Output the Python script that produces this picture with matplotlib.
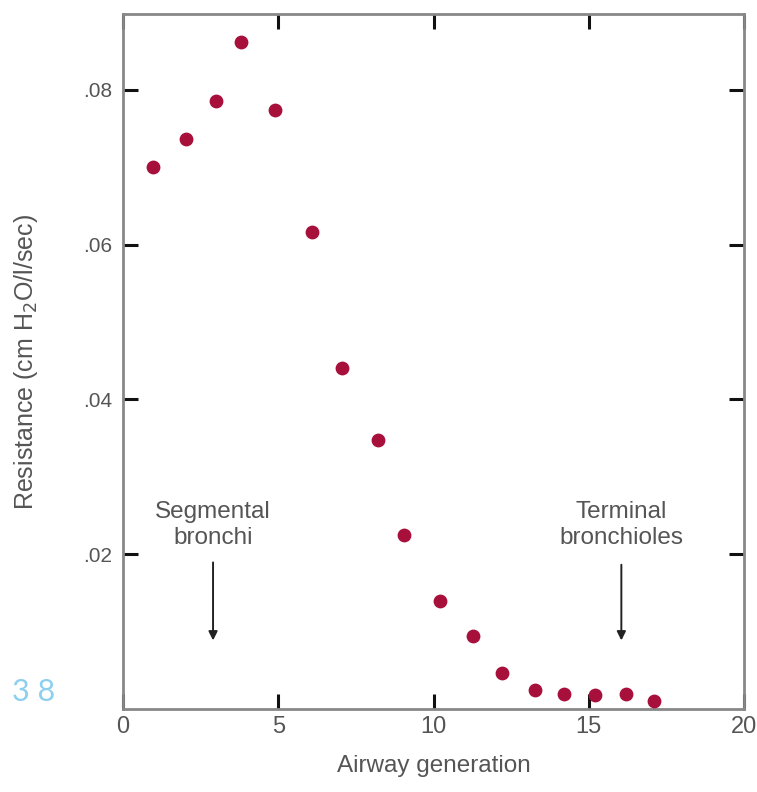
import matplotlib.pyplot as plt

plt.rcParams['font.family'] = ['Liberation Sans', 'DejaVu Sans']

generation = [0.97, 2.04, 3.0, 3.8, 4.9, 6.1, 7.05, 8.2, 9.06, 10.2, 11.26,
              12.2, 13.27, 14.2, 15.2, 16.2, 17.1]
resistance = [0.0700, 0.0736, 0.0785, 0.0862, 0.0774, 0.0616, 0.0441, 0.0347,
              0.0225, 0.0140, 0.0094, 0.0046, 0.0024, 0.0019, 0.0018, 0.0019,
              0.0010]
x_ticks = [0, 5, 10, 15, 20]
y_ticks = [0.02, 0.04, 0.06, 0.08]
y_labels = ['.02', '.04', '.06', '.08']

fig = plt.figure(figsize=(7.57, 7.92), dpi=100)
ax = fig.add_axes([123 / 757, 1 - 709 / 792, 621 / 757, 695 / 792])

ax.scatter(generation, resistance, s=80, color='#a8103c', zorder=3)

ax.set_xlim(0, 20)
ax.set_ylim(0, 0.0898)
ax.set_xticks(x_ticks)
ax.set_yticks(y_ticks)
ax.set_yticklabels(y_labels)
ax.tick_params(direction='in', length=11, width=2.2, color='#111111',
               labelcolor='#555555', top=True, right=True)
ax.tick_params(axis='x', labelsize=17, pad=5)
ax.tick_params(axis='y', labelsize=15, pad=8)
for s in ax.spines.values():
    s.set_color('#888888')
    s.set_linewidth(2)

ax.set_xlabel('Airway generation', fontsize=17.5, color='#555555', labelpad=12)
ax.set_ylabel('Resistance (cm H$_2$O/l/sec)', fontsize=18, color='#555555',
              labelpad=31)

ax.text(2.9, 0.0238, 'Segmental\nbronchi', ha='center', va='center',
        fontsize=17.5, color='#555555', linespacing=1.2)
ax.annotate('', xy=(2.9, 0.0085), xytext=(2.9, 0.0193),
            arrowprops=dict(arrowstyle='-|>', color='#222222', lw=1.4,
                            mutation_scale=13))
ax.text(16.05, 0.0238, 'Terminal\nbronchioles', ha='center', va='center',
        fontsize=17.5, color='#555555', linespacing=1.2)
ax.annotate('', xy=(16.05, 0.0085), xytext=(16.05, 0.019),
            arrowprops=dict(arrowstyle='-|>', color='#222222', lw=1.4,
                            mutation_scale=13))

fig.text(12 / 757, 1 - 692 / 792, '3 8', fontsize=22, color='#8ccfee',
         va='center', ha='left', family='Lato')

fig.savefig('out.png', dpi=100)
